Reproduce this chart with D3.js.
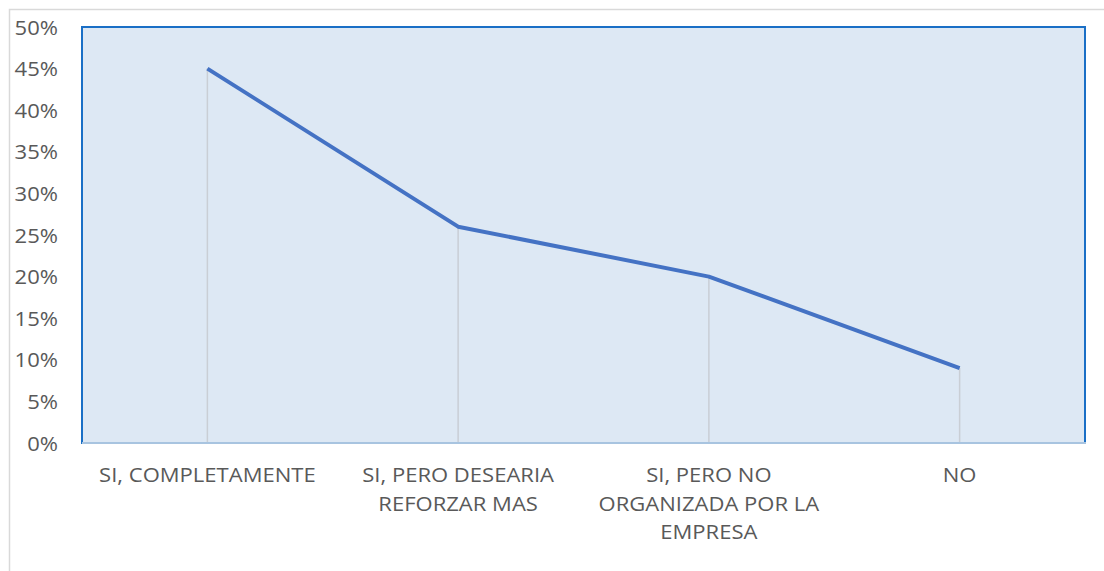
<!DOCTYPE html>
<html><head><meta charset="utf-8">
<script src="https://cdn.jsdelivr.net/npm/d3@7"></script>
<style>body{margin:0;background:#fff}svg{display:block}text{font-family:"Open Sans",sans-serif;fill:#595959}</style>
</head><body><svg id="c" width="1104" height="571"></svg>
<script>
const categories = [["SI, COMPLETAMENTE"],["SI, PERO DESEARIA","REFORZAR MAS"],["SI, PERO NO","ORGANIZADA POR LA","EMPRESA"],["NO"]];
const values = [0.45, 0.26, 0.20, 0.09];
const yTicks = [0,0.05,0.10,0.15,0.20,0.25,0.30,0.35,0.40,0.45,0.50];

const svg = d3.select("#c");
const L=82, R=1085, T=27, B=443, SX=1.13, FS="19.5px";
svg.append("rect").attr("x",9.5).attr("y",9.5).attr("width",1110).attr("height",600)
  .attr("fill","#fff").attr("stroke","#d9d9d9").attr("stroke-width",1.5);

const keys = categories.map((d,i)=>i);
const x = d3.scaleBand().domain(keys).range([L,R]);
const y = d3.scaleLinear().domain([0,0.5]).range([B,T]);

svg.append("rect").attr("x",L).attr("y",T).attr("width",R-L).attr("height",B-T)
  .attr("fill","#dde8f4").attr("stroke","#1a6fc6").attr("stroke-width",2);

// drop lines
svg.selectAll("line.drop").data(values).join("line").attr("class","drop")
  .attr("x1",(d,i)=>x(i)+x.bandwidth()/2).attr("x2",(d,i)=>x(i)+x.bandwidth()/2)
  .attr("y1",d=>y(d)).attr("y2",B).attr("stroke","#c9ced5").attr("stroke-width",1.5);

// x axis line
svg.append("line").attr("x1",L).attr("x2",R+1).attr("y1",B).attr("y2",B)
  .attr("stroke","#a8c4e0").attr("stroke-width",2);

// y axis labels
const ya = svg.append("g").attr("transform",`translate(${L},0)`)
  .call(d3.axisLeft(y).tickValues(yTicks).tickFormat(d3.format(".0%")).tickSize(0).tickPadding(0));
ya.select(".domain").remove();
ya.selectAll(".tick text").attr("x",0).attr("dy","0.36em")
  .attr("transform",`translate(-24,0) scale(${SX},1)`)
  .style("font-size",FS).attr("fill","#595959");

// line
svg.append("path").datum(values)
  .attr("d",d3.line().x((d,i)=>x(i)+x.bandwidth()/2).y(d=>y(d)))
  .attr("fill","none").attr("stroke","#4472c4").attr("stroke-width",4).attr("stroke-linejoin","round");

// category labels
const g = svg.selectAll("text.cat").data(categories).join("text").attr("class","cat")
  .attr("text-anchor","middle").style("font-size",FS)
  .attr("transform",(d,i)=>`translate(${x(i)+x.bandwidth()/2},0) scale(${SX},1)`);
g.each(function(lines,i){
  d3.select(this).selectAll("tspan").data(lines).join("tspan")
    .attr("x",0).attr("y",(d,j)=>482+j*28.7).text(d=>d);
});
</script></body></html>
